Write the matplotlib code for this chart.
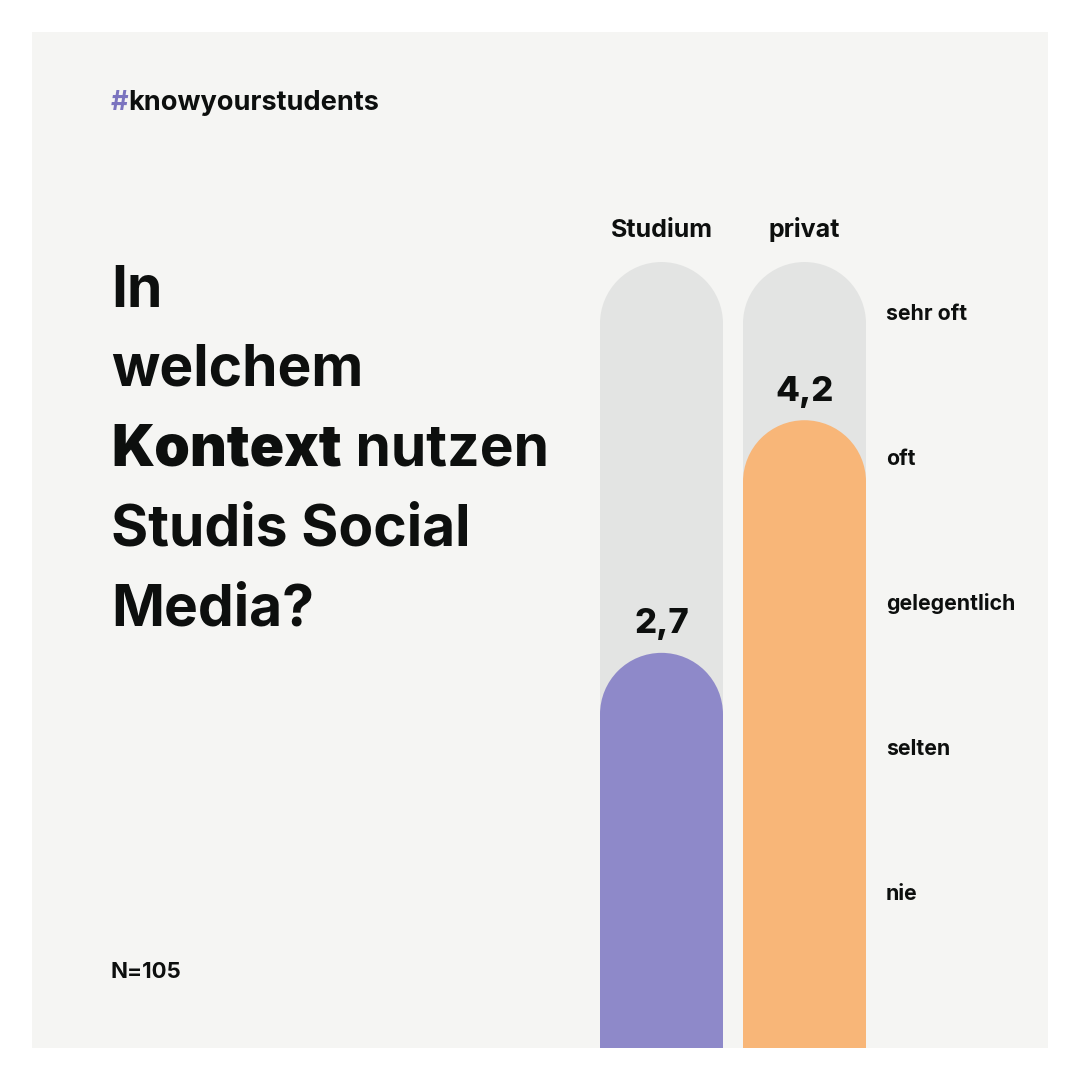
import matplotlib.pyplot as plt
from matplotlib.patches import Ellipse, Rectangle

# data
categories = ["Studium", "privat"]
values = [2.7, 4.2]
value_labels = ["2,7", "4,2"]
bar_colors = ["#8e89c9", "#f8b678"]
levels = ["nie", "selten", "gelegentlich", "oft", "sehr oft"]
level_pos = [1, 2, 3, 4, 5]
track_max = 5.22

title_lines = ["In", "welchem", "Kontext", "Studis Social", "Media?"]
n_note = "N=105"

plt.rcParams["font.family"] = ["Inter", "DejaVu Sans"]
TXT = "#0d0f0e"
TRACK = "#e3e4e3"
PANEL = "#f5f5f3"

W = 1080
fig = plt.figure(figsize=(10.8, 10.8), dpi=100)
fig.patch.set_facecolor("white")
fig.add_artist(Rectangle((32 / W, 32 / W), 1016 / W, 1016 / W, transform=fig.transFigure,
                         fc=PANEL, ec="none", zorder=0))

# bars axis: px 600..866 horizontally, 200..1048 from top
ax = fig.add_axes([600 / W, 32 / W, 266 / W, 848 / W])
ax.set_xlim(-0.43, 1.43)
ax.set_ylim(0.152, 5.62)
ax.patch.set_visible(False)
for s in ax.spines.values():
    s.set_visible(False)
ax.set_xticks([])
ax.set_yticks([])

width = 0.86
px_x = 266 / 1.86
px_y = 848 / (5.62 - 0.152)
r_x = width / 2
r_y = r_x * px_x / px_y

for i, (cat, v, lab, c) in enumerate(zip(categories, values, value_labels, bar_colors)):
    ax.bar(i, track_max - r_y, width, color=TRACK, linewidth=0)
    ax.add_patch(Ellipse((i, track_max - r_y), width, 2 * r_y, color=TRACK, linewidth=0))
    ax.bar(i, v - r_y, width, color=c, linewidth=0)
    ax.add_patch(Ellipse((i, v - r_y), width, 2 * r_y, color=c, linewidth=0))
    ax.annotate(lab, (i, v), xytext=(0, 14), textcoords="offset points", ha="center",
                va="baseline", fontsize=25, fontweight="heavy", color=TXT)
    ax.annotate(cat, (i, track_max), xytext=(0, 18), textcoords="offset points", ha="center",
                va="baseline", fontsize=18, fontweight="bold", color=TXT)

# level labels on a second scale
ax2 = ax.twinx()
ax2.set_ylim(-0.076, 5.772)
ax2.set_yticks(level_pos)
ax2.set_yticklabels(levels, fontsize=15.3, fontweight="bold", color=TXT)
ax2.tick_params(axis="y", length=0, pad=14.4)
for s in ax2.spines.values():
    s.set_visible(False)
ax2.set_xticks([])

# header tag
t = fig.text(111 / W, 1 - 110 / W, "#", color="#7b74bf", fontsize=19.5, fontweight="bold",
             va="baseline")
plt.annotate("knowyourstudents", xy=(1, 0), xycoords=t, ha="left", va="bottom",
             color=TXT, fontsize=19.5, fontweight="bold")

# title
baselines = [307, 386, 465, 545, 625]
for line, yb in zip(title_lines, baselines):
    wt = "black" if line == "Kontext" else "bold"
    tt = fig.text(111 / W, 1 - yb / W, line, fontsize=41, fontweight=wt, color=TXT, va="baseline")
    if line == "Kontext":
        plt.annotate(" nutzen", xy=(1, 0), xycoords=tt, ha="left", va="bottom",
                     fontsize=41, fontweight="bold", color=TXT)

fig.text(111 / W, 1 - 978 / W, n_note, fontsize=16, fontweight="bold", color=TXT, va="baseline")

fig.savefig("out.png", dpi=100, facecolor="white")
